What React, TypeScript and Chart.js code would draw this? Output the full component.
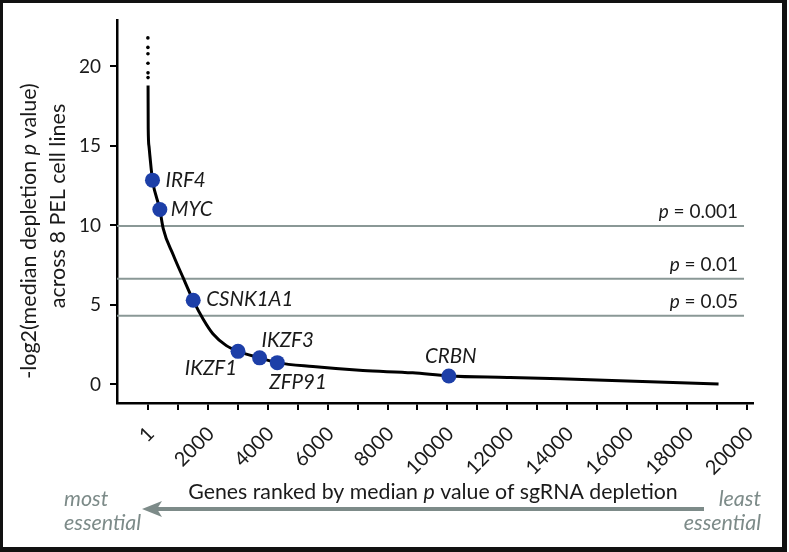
import React, { useEffect, useRef } from 'react';
import { Chart, registerables } from 'chart.js';

Chart.register(...registerables);

// ---- data ----
const curveRanks = [7, 12, 37, 67, 155, 400, 511, 845, 1180, 1514, 1848, 2170, 2620, 3010, 3730, 4320, 5510, 7180, 8840, 10047, 12000, 13760, 16000, 19050];
const curveScores = [18.8, 16.1, 15.0, 14.4, 12.85, 11.0, 9.82, 8.16, 6.7, 5.29, 4.1, 3.19, 2.44, 2.08, 1.67, 1.37, 1.12, 0.87, 0.73, 0.53, 0.44, 0.35, 0.21, 0.02];

const topDotRanks = [1, 2, 3, 4, 5, 6];
const topDotScores = [21.8, 21.2, 20.8, 20.2, 19.6, 19.3];

const geneNames = ['IRF4', 'MYC', 'CSNK1A1', 'IKZF1', 'IKZF3', 'ZFP91', 'CRBN'];
const geneRanks = [155, 400, 1514, 3010, 3730, 4320, 10047];
const geneScores = [12.85, 11.0, 5.29, 2.08, 1.67, 1.37, 0.53];

const pValues = [0.001, 0.01, 0.05];
const pLabels = ['0.001', '0.01', '0.05'];

const xTickValues = [0, 1000, 2000, 3000, 4000, 5000, 6000, 7000, 8000, 9000, 10000, 11000, 12000, 13000, 14000, 15000, 16000, 17000, 18000, 19000, 20000];
const xTickLabels = ['1', '', '2000', '', '4000', '', '6000', '', '8000', '', '10000', '', '12000', '', '14000', '', '16000', '', '18000', '', '20000'];
const yTickStep = 5;

const X_MIN = -1030;
const X_MAX = 20200;
const Y_MIN = -1.17;
const Y_MAX = 22.9;
const THRESHOLD_END = 19900;

const xTitleSegs: [string, boolean][] = [['Genes ranked by median ', false], ['p', true], [' value of sgRNA depletion', false]];
const yTitleLine1: [string, boolean][] = [['-log2(median depletion ', false], ['p', true], [' value)', false]];
const yTitleLine2: [string, boolean][] = [['across 8 PEL cell lines', false]];

// ---- styles ----
const FONT = 'Lato';
const TEXT = '#1a1a1a';
const GRAY = '#8a9896';
const ARROW_GRAY = '#7d8b89';
const BLUE = '#1d3fa8';

const labelPlacement: { dx: number; dy: number; align: 'left' | 'right' | 'center' }[] = [
  { dx: 13, dy: 0, align: 'left' },
  { dx: 11, dy: 0, align: 'left' },
  { dx: 13, dy: -1, align: 'left' },
  { dx: -1, dy: 17, align: 'right' },
  { dx: 2, dy: -17, align: 'left' },
  { dx: -8, dy: 20, align: 'left' },
  { dx: 2, dy: -20, align: 'center' },
];

function drawRich(ctx: CanvasRenderingContext2D, segs: [string, boolean][], x: number, y: number, align: string, size: number, color: string) {
  let total = 0;
  const widths = segs.map(([t, it]) => {
    ctx.font = `${it ? 'italic ' : ''}${size}px ${FONT}`;
    const w = ctx.measureText(t).width;
    total += w;
    return w;
  });
  let cx = align === 'left' ? x : align === 'right' ? x - total : x - total / 2;
  ctx.textAlign = 'left';
  ctx.textBaseline = 'middle';
  ctx.fillStyle = color;
  segs.forEach(([t, it], i) => {
    ctx.font = `${it ? 'italic ' : ''}${size}px ${FONT}`;
    ctx.fillText(t, cx, y);
    cx += widths[i];
  });
}

const annotPlugin = {
  id: 'annot',
  afterDatasetsDraw(chart: any) {
    const ctx: CanvasRenderingContext2D = chart.ctx;
    const xs = chart.scales.x;
    const ys = chart.scales.y;
    ctx.save();
    pValues.forEach((p, i) => {
      const yPix = ys.getPixelForValue(-Math.log2(p));
      const xr = xs.getPixelForValue(THRESHOLD_END) - 6;
      drawRich(ctx, [['p', true], [' = ' + pLabels[i], false]], xr, yPix - 14, 'right', 19, TEXT);
    });
    const meta = chart.getDatasetMeta(0);
    meta.data.forEach((pt: any, i: number) => {
      const pl = labelPlacement[i];
      drawRich(ctx, [[geneNames[i], true]], pt.x + pl.dx, pt.y + pl.dy, pl.align, 20.5, TEXT);
    });
    ctx.restore();
  },
  afterDraw(chart: any) {
    const ctx: CanvasRenderingContext2D = chart.ctx;
    const ca = chart.chartArea;
    ctx.save();
    const drawRot = (segs: [string, boolean][], x: number, y: number) => {
      ctx.save();
      ctx.translate(x, y);
      ctx.rotate(-Math.PI / 2);
      drawRich(ctx, segs, 0, 0, 'center', 21.5, TEXT);
      ctx.restore();
    };
    drawRot(yTitleLine1, 29, 231);
    drawRot(yTitleLine2, 58, 206);
    const cxm = (ca.left + ca.right) / 2 - 2;
    drawRich(ctx, xTitleSegs, cxm, 492, 'center', 21.3, TEXT);
    const ay = 509;
    ctx.strokeStyle = ARROW_GRAY;
    ctx.fillStyle = ARROW_GRAY;
    ctx.lineWidth = 4;
    ctx.beginPath();
    ctx.moveTo(704, ay);
    ctx.lineTo(156, ay);
    ctx.stroke();
    ctx.beginPath();
    ctx.moveTo(142, ay);
    ctx.lineTo(162, ay - 8);
    ctx.lineTo(157, ay);
    ctx.lineTo(162, ay + 8);
    ctx.closePath();
    ctx.fill();
    drawRich(ctx, [['most', true]], 64, 499, 'left', 21.5, ARROW_GRAY);
    drawRich(ctx, [['essential', true]], 64, 523, 'left', 21.5, ARROW_GRAY);
    drawRich(ctx, [['least', true]], 761, 499, 'right', 21.5, ARROW_GRAY);
    drawRich(ctx, [['essential', true]], 761, 523, 'right', 21.5, ARROW_GRAY);
    ctx.restore();
  },
};

export default function App() {
  const ref = useRef<HTMLCanvasElement>(null);
  useEffect(() => {
    if (!ref.current) return;
    Chart.defaults.font.family = FONT;
    const chart = new Chart(ref.current, {
      type: 'scatter',
      data: {
        datasets: [
          {
            label: 'genes',
            data: geneRanks.map((x, i) => ({ x, y: geneScores[i] })),
            backgroundColor: BLUE,
            borderWidth: 0,
            pointRadius: 7.5,
            order: 0,
          } as any,
          {
            label: 'curve',
            data: curveRanks.map((x, i) => ({ x, y: curveScores[i] })),
            showLine: true,
            borderColor: '#000',
            borderWidth: 3,
            pointRadius: 0,
            cubicInterpolationMode: 'monotone',
            order: 1,
          },
          {
            label: 'top',
            data: topDotRanks.map((x, i) => ({ x, y: topDotScores[i] })),
            backgroundColor: '#000',
            borderWidth: 0,
            pointRadius: 1.8,
            order: 1,
          },
          ...pValues.map((p) => ({
            label: 'p' + p,
            data: [{ x: X_MIN, y: -Math.log2(p) }, { x: THRESHOLD_END, y: -Math.log2(p) }],
            showLine: true,
            borderColor: GRAY,
            borderWidth: 2,
            pointRadius: 0,
            order: 2,
          })),
        ],
      },
      options: {
        responsive: false,
        animation: false,
        devicePixelRatio: 1,
        layout: { padding: { left: 0, top: 17, right: 36, bottom: 0 } },
        plugins: { legend: { display: false }, tooltip: { enabled: false } },
        scales: {
          x: {
            type: 'linear',
            min: X_MIN,
            max: X_MAX,
            afterBuildTicks: (s: any) => {
              s.ticks = xTickValues.map((value) => ({ value }));
            },
            afterFit: (s: any) => { s.height = 149; },
            border: { display: true, color: '#000', width: 2.5 },
            grid: { drawOnChartArea: false, drawTicks: true, tickLength: 7, color: '#000', lineWidth: 2 },
            ticks: {
              autoSkip: false,
              minRotation: 45,
              maxRotation: 45,
              padding: 12,
              labelOffset: 3,
              color: TEXT,
              font: { size: 20, family: FONT },
              callback: (v: any) => {
                const idx = xTickValues.indexOf(Math.round(Number(v)));
                return idx >= 0 ? xTickLabels[idx] : '';
              },
            },
          },
          y: {
            type: 'linear',
            min: Y_MIN,
            max: Y_MAX,
            afterFit: (s: any) => { s.width = 117; },
            border: { display: true, color: '#000', width: 2.5 },
            grid: { drawOnChartArea: false, drawTicks: true, tickLength: 7, color: '#000', lineWidth: 2 },
            ticks: {
              stepSize: yTickStep,
              includeBounds: false,
              padding: 9,
              color: TEXT,
              font: { size: 19, family: FONT },
            },
          },
        },
      } as any,
      plugins: [annotPlugin],
    });
    return () => chart.destroy();
  }, []);

  return (
    <div style={{ position: 'absolute', left: 0, top: 0, width: 789, height: 552, background: '#fff' }}>
      <canvas ref={ref} width={789} height={552} style={{ position: 'absolute', left: 0, top: 0 }} />
      <div
        style={{
          position: 'absolute',
          left: 0,
          top: 0,
          width: 787,
          height: 552,
          boxSizing: 'border-box',
          borderStyle: 'solid',
          borderColor: '#111',
          borderWidth: '3px 5px 5px 3px',
          pointerEvents: 'none',
        }}
      />
    </div>
  );
}
